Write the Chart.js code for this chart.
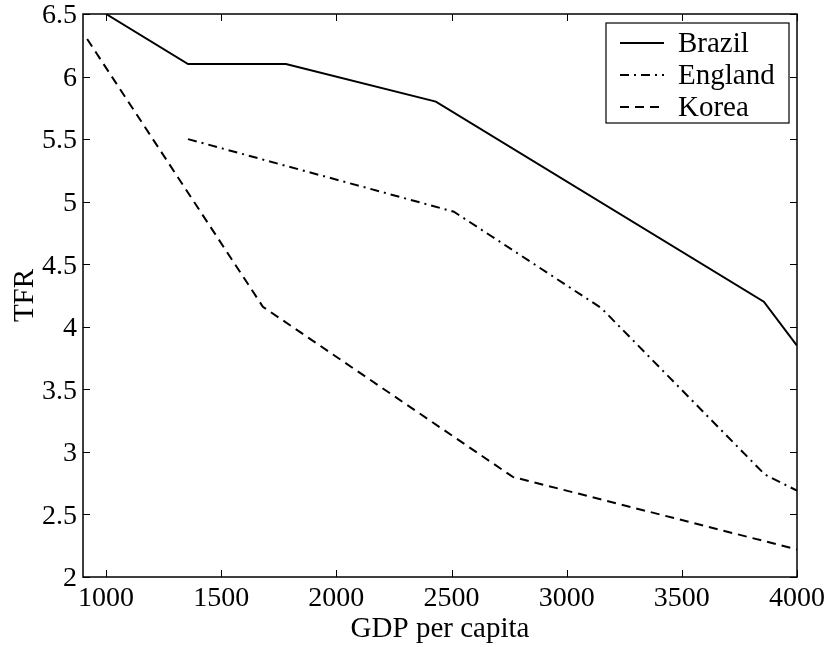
<!DOCTYPE html>
<html>
<head>
<meta charset="utf-8">
<script src="https://cdn.jsdelivr.net/npm/chart.js@4.4.1/dist/chart.umd.min.js"></script>
<style>
  html, body { margin: 0; padding: 0; background: #fff; }
</style>
</head>
<body>
<canvas id="myChart" width="828" height="647"></canvas>
<script>
// Datos (TFR frente a PIB per capita)
const brazilGdp = [1000, 1356, 1781, 2432, 3856, 4000];
const brazilTfr = [6.5, 6.1, 6.1, 5.8, 4.2, 3.85];
const englandGdp = [1356, 2510, 3150, 3860, 4000];
const englandTfr = [5.5, 4.92, 4.15, 2.82, 2.69];
const koreaGdp = [918, 1681, 2766, 4000];
const koreaTfr = [6.3, 4.16, 2.8, 2.22];

const xTicks = [1000, 1500, 2000, 2500, 3000, 3500, 4000];
const yTicks = [2, 2.5, 3, 3.5, 4, 4.5, 5, 5.5, 6, 6.5];

const FONT = '"Liberation Serif", "Times New Roman", serif';

function toPoints(xs, ys) {
    return xs.map((x, i) => ({ x: x, y: ys[i] }));
}

// Marco, marcas hacia dentro y leyenda al estilo matlab
const framePlugin = {
    id: 'frame',
    afterDraw(chart) {
        const { ctx, chartArea: a, scales } = chart;
        const tl = 7;
        ctx.save();
        ctx.strokeStyle = '#000';
        ctx.lineWidth = 1;
        ctx.beginPath();
        scales.x.ticks.forEach(t => {
            const px = Math.round(scales.x.getPixelForValue(t.value)) + 0.5;
            ctx.moveTo(px, a.bottom); ctx.lineTo(px, a.bottom - tl);
            ctx.moveTo(px, a.top); ctx.lineTo(px, a.top + tl);
        });
        scales.y.ticks.forEach(t => {
            const py = Math.round(scales.y.getPixelForValue(t.value)) + 0.5;
            ctx.moveTo(a.left, py); ctx.lineTo(a.left + tl, py);
            ctx.moveTo(a.right, py); ctx.lineTo(a.right - tl, py);
        });
        ctx.stroke();
        ctx.lineWidth = 1.5;
        ctx.strokeRect(a.left, a.top, a.width, a.height);

        // leyenda
        const bw = 183, bh = 100;
        const bx = a.right - 8 - bw, by = a.top + 9;
        ctx.fillStyle = '#fff';
        ctx.fillRect(bx, by, bw, bh);
        ctx.lineWidth = 1.2;
        ctx.strokeRect(bx, by, bw, bh);
        ctx.font = '29px ' + FONT;
        ctx.textBaseline = 'middle';
        ctx.textAlign = 'left';
        chart.data.datasets.forEach((ds, i) => {
            const yy = by + 20 + i * 32;
            ctx.beginPath();
            ctx.lineWidth = 2;
            ctx.setLineDash(ds.borderDash || []);
            ctx.moveTo(bx + 14, yy);
            ctx.lineTo(bx + 58, yy);
            ctx.stroke();
            ctx.setLineDash([]);
            ctx.fillStyle = '#000';
            ctx.fillText(ds.label, bx + 72, yy + 1);
        });
        ctx.restore();
    }
};

const ctx = document.getElementById('myChart').getContext('2d');

const myChart = new Chart(ctx, {
    type: 'line',
    data: {
        datasets: [
            { label: 'Brazil', data: toPoints(brazilGdp, brazilTfr), borderDash: [] },
            { label: 'England', data: toPoints(englandGdp, englandTfr), borderDash: [9, 5, 2, 5] },
            { label: 'Korea', data: toPoints(koreaGdp, koreaTfr), borderDash: [9, 6] }
        ].map(ds => Object.assign(ds, {
            borderColor: '#000',
            backgroundColor: '#000',
            borderWidth: 2,
            pointRadius: 0,
            tension: 0,
            fill: false
        }))
    },
    options: {
        responsive: false,
        animation: false,
        layout: { padding: { top: 14, right: 31, left: 0, bottom: 0 } },
        plugins: {
            legend: { display: false },
            tooltip: { enabled: false }
        },
        scales: {
            x: {
                type: 'linear',
                min: 900,
                max: 4000,
                afterFit: s => { s.height = 70; s.paddingLeft = 0; s.paddingRight = 0; },
                afterBuildTicks: s => { s.ticks = xTicks.map(v => ({ value: v })); },
                grid: { display: false, drawTicks: false },
                border: { display: false },
                ticks: {
                    color: '#000',
                    font: { family: FONT, size: 28 },
                    padding: 5,
                    maxRotation: 0,
                    autoSkip: false,
                    callback: v => String(v)
                },
                title: {
                    display: true,
                    text: 'GDP per capita',
                    color: '#000',
                    font: { family: FONT, size: 29 },
                    padding: { top: 0, bottom: 0 }
                }
            },
            y: {
                type: 'linear',
                min: 2,
                max: 6.5,
                afterFit: s => { s.width = 83; s.paddingTop = 0; s.paddingBottom = 0; },
                afterBuildTicks: s => { s.ticks = yTicks.map(v => ({ value: v })); },
                grid: { display: false, drawTicks: false },
                border: { display: false },
                ticks: {
                    color: '#000',
                    font: { family: FONT, size: 28 },
                    padding: 6,
                    labelOffset: 2,
                    autoSkip: false,
                    callback: v => String(v)
                },
                title: {
                    display: true,
                    text: 'TFR',
                    color: '#000',
                    font: { family: FONT, size: 29 },
                    padding: { top: 8, bottom: 0 }
                }
            }
        }
    },
    plugins: [framePlugin]
});
</script>
</body>
</html>
